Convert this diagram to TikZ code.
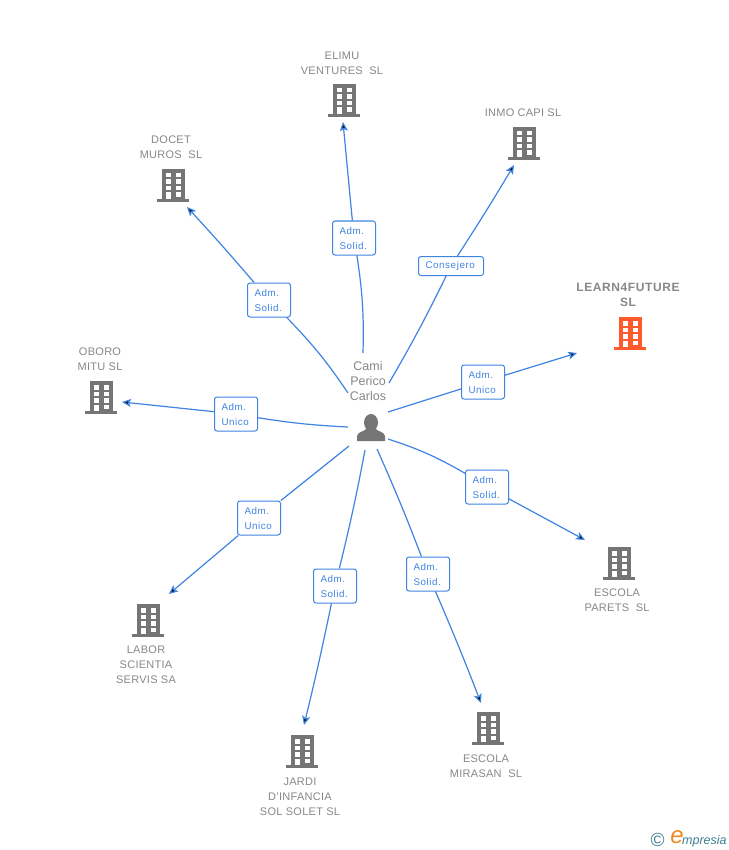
\documentclass[tikz,border=0pt]{standalone}
\usepackage{fontspec}
\setmainfont{Liberation Sans}
\newfontfamily\logofont{Liberation Sans}
\usetikzlibrary{arrows.meta,shapes.geometric}
\definecolor{linkblue}{HTML}{3F83E3}
\definecolor{towergray}{HTML}{757575}
\definecolor{towerred}{HTML}{FF5A2B}
\definecolor{namegray}{HTML}{888888}
\definecolor{logoteal}{HTML}{3F7F92}
\definecolor{logoorange}{HTML}{EE8A22}

\tikzset{
  tower/.pic={
    \fill (-16,-3) rectangle (16,0);
    \fill (-11.5,-33) rectangle (11.5,-3);
    \foreach \wy in {-29,-22.5,-16} {
      \fill[white] (-7,\wy) rectangle (-2,\wy+4.5);
      \fill[white] (2.5,\wy) rectangle (7.5,\wy+4.5);
    }
    \fill[white] (-7,-9.5) rectangle (-2,-3);
    \fill[white] (2.5,-9.5) rectangle (7.5,-5);
  },
  firm/.style={text=namegray,align=center,inner sep=0pt,yshift=-1pt,
    font=\fontsize{11}{15}\selectfont\addfontfeature{LetterSpace=2.5}},
  role/.style={draw=linkblue,fill=white,text=linkblue,rounded corners=2.5pt,line width=1pt,
    align=left,text width=29,minimum height=34,inner ysep=0pt,inner xsep=7,
    font=\fontsize{9.8}{15}\selectfont\addfontfeature{LetterSpace=6}},
  link/.style={draw=linkblue,line width=1.2pt},
}

\begin{document}
\begin{tikzpicture}[x=1pt,y=-1pt,>={Stealth[length=9,width=8,inset=2]}]
  \useasboundingbox[fill=white] (0,0) rectangle (728,850);

  % person in the middle
  \node[firm,font=\fontsize{12.5}{15}\selectfont,yshift=0pt] (cami) at (368,380) {Cami\\Perico\\Carlos};
  \node[fill=towergray,ellipse,inner sep=0pt,minimum width=14,minimum height=17] (head) at (371,422.5) {};
  \fill[towergray] (357,441) -- (357,436) .. controls (358,431) and (365,432) .. (367,428)
    -- (375,428) .. controls (377,432) and (384,431) .. (385,436) -- (385,441) -- cycle;

  % companies
  \pic[towergray] at (344,117) {tower};
  \pic[towergray] at (524,160) {tower};
  \pic[towergray] at (173,202) {tower};
  \pic[towerred]  at (630,350) {tower};
  \pic[towergray] at (101,414) {tower};
  \pic[towergray] at (619,580) {tower};
  \pic[towergray] at (148,637) {tower};
  \pic[towergray] at (488,745) {tower};
  \pic[towergray] at (302,768) {tower};

  \node[firm] (elimu)   at (342,62.5) {ELIMU\\VENTURES\ \ SL};
  \node[firm] (inmo)    at (523,112) {INMO CAPI SL};
  \node[firm] (docet)   at (171,146.5) {DOCET\\MUROS\ \ SL};
  \node[firm,font=\fontsize{12}{15}\bfseries\selectfont\addfontfeature{LetterSpace=5}] (learn) at (628,293.5) {LEARN4FUTURE\\SL};
  \node[firm] (oboro)   at (100,358.5) {OBORO\\MITU SL};
  \node[firm] (parets)  at (617,599.5) {ESCOLA\\PARETS\ \ SL};
  \node[firm] (labor)   at (146,664) {LABOR\\SCIENTIA\\SERVIS SA};
  \node[firm] (mirasan) at (486,765.5) {ESCOLA\\MIRASAN\ \ SL};
  \node[firm] (jardi)   at (300,796) {JARDI\\D'INFANCIA\\SOL SOLET SL};

  % role boxes
  \node[role] (rElimu)   at (354,238) {Adm.\\Solid.};
  \node[role,text width=51,minimum height=19] (rInmo) at (451,266) {Consejero};
  \node[role] (rDocet)   at (269,300) {Adm.\\Solid.};
  \node[role] (rLearn)   at (483,382) {Adm.\\Unico};
  \node[role] (rOboro)   at (236,414) {Adm.\\Unico};
  \node[role] (rParets)  at (487,487) {Adm.\\Solid.};
  \node[role] (rLabor)   at (259,518) {Adm.\\Unico};
  \node[role] (rMirasan) at (428,574) {Adm.\\Solid.};
  \node[role] (rJardi)   at (335,586) {Adm.\\Solid.};

  % free ends of the links
  \coordinate (sElimu)   at (363,353);
  \coordinate (sInmo)    at (389,383);
  \coordinate (sDocet)   at (348,393);
  \coordinate (sLearn)   at (388,412);
  \coordinate (sOboro)   at (348,427);
  \coordinate (sParets)  at (388,439);
  \coordinate (sLabor)   at (349,446);
  \coordinate (sMirasan) at (377,449);
  \coordinate (sJardi)   at (365,450);
  \coordinate (eElimu)   at (343,122);
  \coordinate (eInmo)    at (514,165);
  \coordinate (eDocet)   at (187,207);
  \coordinate (eLearn)   at (577,353);
  \coordinate (eOboro)   at (122,402);
  \coordinate (eParets)  at (585,540);
  \coordinate (eLabor)   at (169,594);
  \coordinate (eMirasan) at (481,703);
  \coordinate (eJardi)   at (304,725);

  \path[link] (sElimu) edge[bend right=5] (rElimu)
              (rElimu) edge[->] (eElimu);
  \path[link] (sInmo) edge[bend right=2] (rInmo)
              (rInmo) edge[->,bend right=1] (eInmo);
  \path[link] (sDocet) edge[bend right=5] (rDocet)
              (rDocet) edge[->,bend right=1] (eDocet);
  \path[link] (sLearn) edge (rLearn)
              (rLearn) edge[->] (eLearn);
  \path[link] (sOboro) edge[bend left=3] (rOboro)
              (rOboro) edge[->] (eOboro);
  \path[link] (sParets) edge[bend left=6] (rParets)
              (rParets) edge[->] (eParets);
  \path[link] (sLabor) edge (rLabor)
              (rLabor) edge[->] (eLabor);
  \path[link] (sMirasan) edge[bend left=1.5] (rMirasan)
              (rMirasan) edge[->,bend left=1] (eMirasan);
  \path[link] (sJardi) edge[bend left=1.5] (rJardi)
              (rJardi) edge[->,bend left=1] (eJardi);

  % logo
  \node[text=logoteal,font=\fontsize{19}{19}\selectfont,inner sep=0pt] (copy) at (657.5,839.5) {©};
  \node[text=logoorange,font=\logofont\itshape\fontsize{24}{24}\selectfont,inner sep=0pt] (logoe) at (677,837) {e};
  \node[text=logoteal,font=\logofont\itshape\fontsize{12.5}{13}\selectfont,inner sep=0pt,anchor=base west] (logo) at (682,844) {mpresia};
\end{tikzpicture}
\end{document}
